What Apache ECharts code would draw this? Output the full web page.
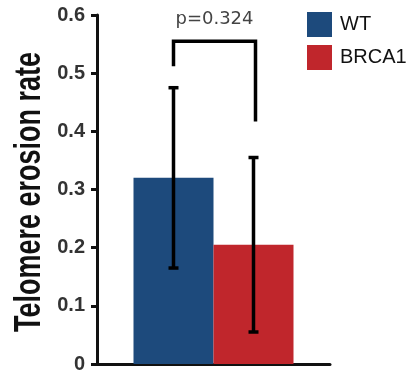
<!DOCTYPE html>
<html>
<head>
<meta charset="utf-8">
<script src="https://cdn.jsdelivr.net/npm/echarts@6/dist/echarts.min.js"></script>
<style>html,body{margin:0;padding:0;background:#fff}#c{width:406px;height:374px}</style>
</head>
<body>
<div id="c"></div>
<script>
const categories = [''];
const seriesNames = ['WT', 'BRCA1'];
const means = [0.32, 0.205];
const errLow = [0.165, 0.055];
const errHigh = [0.475, 0.355];
// bracket: left leg end, top, right leg end
const bracket = [0.515, 0.555, 0.42];
const pLabel = 'p=0.324';
const yTitle = 'Telomere erosion rate';
const colors = ['#1d4a7c', '#c0262c'];

const sans = "'Liberation Sans', Arial, sans-serif";
const chart = echarts.init(document.getElementById('c'));

const errData = means.map((m, i) => [0, errLow[i], errHigh[i], i]);

chart.setOption({
  animation: false,
  color: colors,
  legend: {
    data: seriesNames,
    orient: 'vertical',
    left: 302, top: 7,
    itemWidth: 25, itemHeight: 25, itemGap: 8,
    icon: 'rect',
    textStyle: { fontFamily: sans, fontSize: 20, color: '#111', padding: [0, 0, 0, 3] }
  },
  graphic: [{
    type: 'text', x: 30, y: 192, rotation: Math.PI / 2, scaleX: 0.75,
    style: { text: yTitle, font: 'bold 36px ' + sans, fill: '#111', textAlign: 'center', textVerticalAlign: 'middle' }
  }],
  grid: { left: 97, right: 76, top: 15, bottom: 5 },
  xAxis: {
    type: 'category', data: categories,
    axisLine: { lineStyle: { color: '#111', width: 3 } },
    axisTick: { show: false }, axisLabel: { show: false }
  },
  yAxis: {
    type: 'value', min: 0, max: 0.6, interval: 0.1,
    axisLine: { show: true, lineStyle: { color: '#111', width: 3 } },
    axisTick: { show: true, length: 6, lineStyle: { color: '#111', width: 3 } },
    axisLabel: { margin: 12, fontFamily: sans, fontWeight: 'bold', fontSize: 20, color: '#333' },
    splitLine: { show: false }
  },
  series: [
    { name: seriesNames[0], type: 'bar', data: [means[0]], barWidth: 80, barGap: '0%' },
    { name: seriesNames[1], type: 'bar', data: [means[1]], barWidth: 80, barGap: '0%' },
    {
      type: 'custom', z: 5, data: errData,
      renderItem: function (params, api) {
        const off = api.value(3) === 0 ? -40 : 40;
        const x = api.coord([api.value(0), 0])[0] + off;
        const yl = api.coord([api.value(0), api.value(1)])[1];
        const yh = api.coord([api.value(0), api.value(2)])[1];
        const st = { stroke: '#000', lineWidth: 3.5 };
        return { type: 'group', children: [
          { type: 'line', shape: { x1: x, y1: yl, x2: x, y2: yh }, style: st },
          { type: 'line', shape: { x1: x - 5, y1: yl, x2: x + 5, y2: yl }, style: st },
          { type: 'line', shape: { x1: x - 5, y1: yh, x2: x + 5, y2: yh }, style: st }
        ]};
      }
    },
    {
      type: 'custom', z: 5, data: [[0, bracket[0], bracket[1], bracket[2]]],
      renderItem: function (params, api) {
        const cx = api.coord([api.value(0), 0])[0];
        const xl = cx - 40, xr = cx + 42;
        const yL = api.coord([0, api.value(1)])[1];
        const yT = api.coord([0, api.value(2)])[1];
        const yR = api.coord([0, api.value(3)])[1];
        return { type: 'group', children: [
          { type: 'polyline', shape: { points: [[xl, yL], [xl, yT], [xr, yT], [xr, yR]] },
            style: { stroke: '#000', lineWidth: 3.5, fill: null, lineJoin: 'miter', lineCap: 'square' } },
          { type: 'text', x: (xl + xr) / 2, y: yT - 22,
            style: { text: pLabel, fill: '#444', font: '18px "DejaVu Sans"', textAlign: 'center', textVerticalAlign: 'middle' } }
        ]};
      }
    }
  ]
});
</script>
</body>
</html>
